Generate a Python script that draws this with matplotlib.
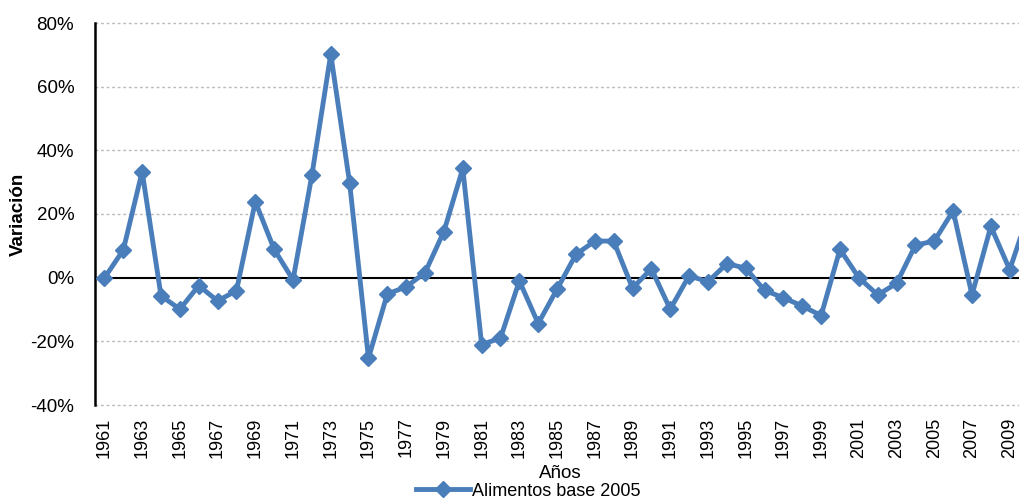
import matplotlib.pyplot as plt
import numpy as np

plt.rcParams['font.family'] = ['Liberation Sans', 'DejaVu Sans']

# years and yearly variation (%)
years = list(range(1961, 2011))
variacion = [-0.1, 8.7, 33.3, -5.7, -9.9, -2.5, -7.3, -4.1, 23.9, 8.9,
             -0.7, 32.2, 70.2, 29.8, -25.3, -5.1, -2.9, 1.6, 14.5, 34.3,
             -21.0, -19.0, -1.0, -14.4, -3.6, 7.3, 11.5, 11.5, -3.3, 2.8,
             -9.9, 0.6, -1.3, 4.4, 3.0, -4.0, -6.3, -8.9, -11.9, 8.9,
             0.0, -5.4, -1.8, 10.2, 11.5, 21.0, -5.4, 16.1, 2.5, 20.2]
yticks = [-40, -20, 0, 20, 40, 60, 80]

color = '#4A7EBB'

fig = plt.figure(figsize=(10.19, 5.01), dpi=100)
ax = fig.add_axes([95/1019, 1 - 405/501, 943/1019, 382/501])

x = np.arange(len(years))
line, = ax.plot(x, variacion, color=color, lw=3.5, marker='D', markersize=8,
                label='Alimentos base 2005', zorder=3)

ax.set_xlim(-0.5, len(years) - 0.5)
ax.set_ylim(-40, 80)
ax.set_yticks(yticks)
ax.set_yticklabels([f'{v}%' for v in yticks], fontsize=13.5)
for v in yticks:
    if v != 0:
        ax.axhline(v, color='#BBBBBB', lw=1, ls=(0, (2, 2)), zorder=1, clip_on=False)
ax.axhline(0, color='black', lw=1.5, zorder=2)

ax.set_xticks(x[::2])
ax.set_xticklabels([str(y) for y in years[::2]], rotation=90, fontsize=13)
ax.tick_params(axis='both', length=0)
ax.tick_params(axis='x', pad=9)
ax.tick_params(axis='y', pad=15)

for s in ['top', 'right', 'bottom']:
    ax.spines[s].set_visible(False)
ax.spines['left'].set_linewidth(1.8)
ax.spines['left'].set_color('black')

fig.text(18/1019, 1 - 214/501, 'Variación', rotation=90, fontsize=13.5,
         fontweight='bold', ha='center', va='center')
fig.text(560/1019, 1 - 473/501, 'Años', fontsize=13.5, ha='center', va='center')
fig.legend(handles=[line], loc='center', bbox_to_anchor=(528/1019, 1 - 491/501),
           frameon=False, fontsize=13, handlelength=3.0, handletextpad=0.1,
           borderpad=0, borderaxespad=0)

fig.savefig('out.png', dpi=100)
